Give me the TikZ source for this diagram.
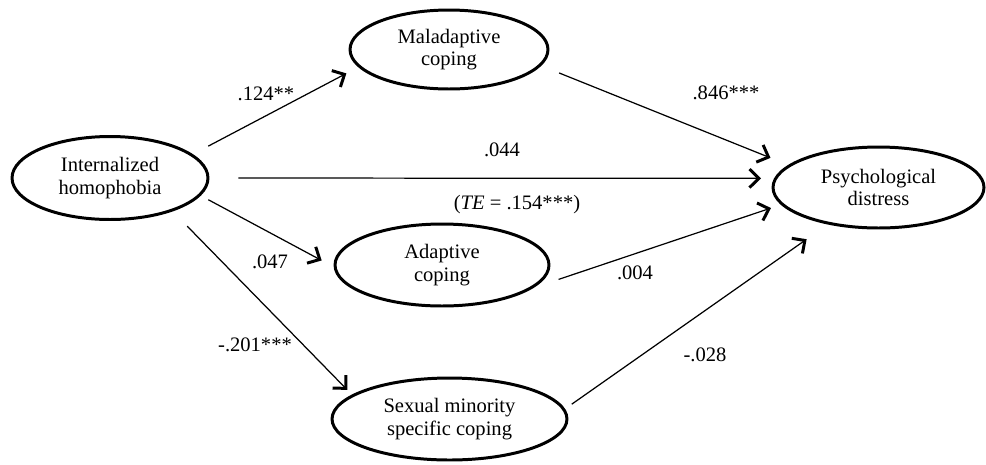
\documentclass[tikz,border=0pt]{standalone}
\usepackage{fontspec}
\setmainfont{Liberation Serif}
\usetikzlibrary{shapes.geometric,arrows.meta}

\begin{document}
\begin{tikzpicture}[x=0.02cm,y=-0.02cm,
  latent/.style={ellipse,draw,line width=1.7pt,inner sep=0pt,align=center,font=\fontsize{11.7}{13}\selectfont},
  coef/.style={inner sep=0pt,font=\fontsize{11.7}{13}\selectfont},
  >={Straight Barb[length=1.9mm,width=3.7mm,line width=1.7pt]}]
\useasboundingbox (0,0) rectangle (986,464);

\node[latent,minimum width=3.92cm,minimum height=1.66cm] (IH) at (110,178) {Internalized\\homophobia};
\node[latent,minimum width=3.96cm,minimum height=1.58cm] (MC) at (449,49.5) {Maladaptive\\coping};
\node[latent,minimum width=4.28cm,minimum height=1.64cm] (AC) at (442,265) {Adaptive\\coping};
\node[latent,minimum width=4.7cm,minimum height=1.64cm] (SC) at (449.5,419) {Sexual minority\\specific coping};
\node[latent,minimum width=4.22cm,minimum height=1.62cm] (PD) at (878.5,187.5) {Psychological\\distress};

\node[coef] (b1) at (266,94) {.124**};
\node[coef] (b2) at (726,93) {.846***};
\node[coef] (b3) at (502,150) {.044};
\node[coef] (te) at (517,205) {(\textit{TE} = .154***)};
\node[coef] (b4) at (270,262) {.047};
\node[coef] (b5) at (635,273) {.004};
\node[coef] (b6) at (255,345) {-.201***};
\node[coef] (b7) at (705,355) {-.028};

\begin{scope}[line width=0.7pt,->]
\draw[shorten <=0.347cm,shorten >=0.269cm] (IH.16) -- (MC.191);
\draw[shorten <=0.58cm,shorten >=0.26cm] (IH.east) -- (PD.175);
\draw[shorten <=0.172cm,shorten >=0.272cm] (IH.349) -- (AC.181);
\draw[shorten <=0.414cm,shorten >=0.134cm] (IH.332) -- (SC.166);

\draw[shorten <=0.386cm,shorten >=0.382cm] (MC.350) -- (PD.166);
\draw[shorten <=0.53cm,shorten >=0.21cm] (AC.346) -- (PD.190);
\draw[shorten <=0.164cm,shorten >=0.514cm] (SC.5) -- (PD.216);
\end{scope}

\end{tikzpicture}
\end{document}
